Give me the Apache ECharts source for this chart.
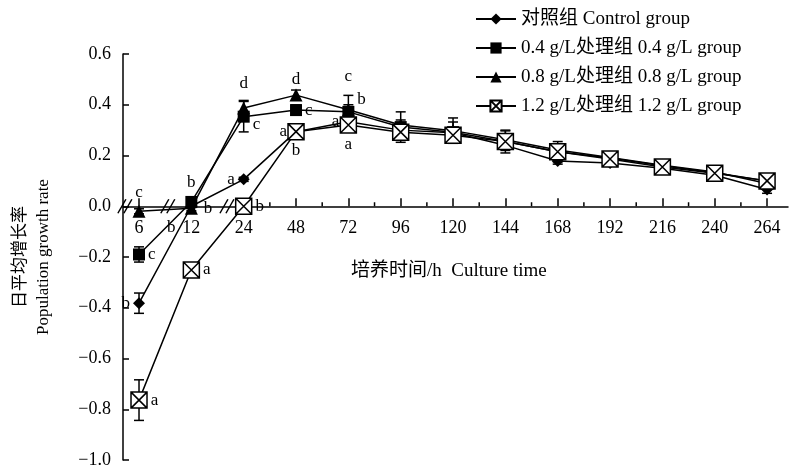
<!DOCTYPE html>
<html><head><meta charset="utf-8">
<script src="https://cdn.jsdelivr.net/npm/echarts@6/dist/echarts.min.js"></script>
<style>html,body{margin:0;padding:0;background:#fff}#c{width:790px;height:472px}</style>
</head><body><div id="c"></div>
<script>
// ---- data ----
const categories = ['6','12','24','48','72','96','120','144','168','192','216','240','264'];
const yTicks = [-1.0,-0.8,-0.6,-0.4,-0.2,0.0,0.2,0.4,0.6];
const seriesNames = ['对照组 Control group','0.4 g/L处理组 0.4 g/L group','0.8 g/L处理组 0.8 g/L group','1.2 g/L处理组 1.2 g/L group'];
const controlValues = [-0.382, 0.0, 0.106, 0.294, 0.333, 0.300, 0.290, 0.240, 0.178, 0.170, 0.150, 0.122, 0.066];
const g04Values     = [-0.190, 0.017, 0.353, 0.379, 0.372, 0.312, 0.292, 0.255, 0.215, 0.190, 0.160, 0.132, 0.100];
const g08Values     = [-0.020, -0.008, 0.387, 0.438, 0.380, 0.320, 0.298, 0.262, 0.222, 0.192, 0.162, 0.135, 0.090];
const g12Values     = [-0.764, -0.251, 0.000, 0.294, 0.320, 0.292, 0.280, 0.255, 0.215, 0.186, 0.155, 0.130, 0.100];
const controlErr = [0.040, 0.005, 0.008, 0.015, 0.015, 0.020, 0.020, 0.020, 0.012, 0.010, 0.010, 0.010, 0.015];
const g04Err     = [0.030, 0.010, 0.060, 0.020, 0.065, 0.060, 0.040, 0.045, 0.040, 0.015, 0.010, 0.010, 0.020];
const g08Err     = [0.010, 0.010, 0.030, 0.020, 0.020, 0.020, 0.050, 0.035, 0.020, 0.010, 0.010, 0.010, 0.020];
const g12Err     = [0.080, 0.010, 0.008, 0.020, 0.020, 0.030, 0.030, 0.030, 0.020, 0.010, 0.010, 0.010, 0.020];
const controlLetters = ['b','b','a','a','a'];
const g04Letters     = ['c','b','c','c','b'];
const g08Letters     = ['c','b','d','d','c'];
const g12Letters     = ['a','a','b','b','a'];
const axisBreaks = [-0.27, 0.55, 1.68];
const minorTicks = [2.5,3.5,4.5,5.5,6.5,7.5,8.5,9.5,10.5,11.5];
const xAxisTitle = '培养时间/h  Culture time';
const yAxisTitle = '日平均增长率\nPopulation growth rate';

// ---- styling / layout ----
const SERIF = '"Liberation Serif","Noto Sans CJK SC",serif';
const GRID = {left:123, right:2, top:54, bottom:12};
const Y_MIN = -1.0, Y_MAX = 0.6;
const placements = [
  [{p:'left'},{p:'bottom',o:[-20,4]},{p:'left'},{p:'left'},{p:'left'}],
  [{p:'right'},{p:'top',d:5},{p:'right',o:[0,8]},{p:'right'},{p:'right',o:[0,-12]}],
  [{p:'top',d:4},{p:'right',d:6},{p:'top',d:10},{p:'top',d:1},{p:'top',d:18}],
  [{p:'right'},{p:'right'},{p:'right'},{p:'bottom',d:2},{p:'bottom',d:2}]
];
const allValues = [controlValues,g04Values,g08Values,g12Values];
const allErr = [controlErr,g04Err,g08Err,g12Err];
const allLetters = [controlLetters,g04Letters,g08Letters,g12Letters];
const boxX = 'path://M0,0L10,0L10,10L0,10Z M0,0L10,10 M10,0L0,10';
const symbols = ['diamond','rect','triangle',boxX];
const symSizes = [12,12,13,16];

function buildData(k){
  return allValues[k].map((v,i)=>{
    const item = {value:[i,v]};
    const L = allLetters[k][i];
    if (L){
      const pl = placements[k][i];
      item.label = {show:true, formatter:L, position:pl.p, distance:pl.d==null?3:pl.d,
        offset:pl.o||[0,0], color:'#000', fontFamily:SERIF, fontSize:17};
    }
    return item;
  });
}

const series = [];
seriesNames.forEach((name,k)=>{
  series.push({
    name, type:'line', data:buildData(k), symbol:symbols[k], symbolSize:symSizes[k],
    lineStyle:{color:'#000',width:1.5},
    itemStyle: k===3 ? {color:'#fff',borderColor:'#000',borderWidth:1.5} : {color:'#000',borderColor:'#000',borderWidth:0},
    z:3+k, animation:false
  });
  series.push({
    name:name+' err', type:'custom', z:2, silent:true,
    data: allValues[k].map((v,i)=>[i, v-allErr[k][i], v+allErr[k][i]]),
    renderItem:(params,api)=>{
      const lo = api.coord([api.value(0), api.value(1)]);
      const hi = api.coord([api.value(0), api.value(2)]);
      const s = {stroke:'#000', lineWidth:1.5};
      return {type:'group', children:[
        {type:'line', shape:{x1:lo[0],y1:lo[1],x2:hi[0],y2:hi[1]}, style:s},
        {type:'line', shape:{x1:lo[0]-5,y1:lo[1],x2:lo[0]+5,y2:lo[1]}, style:s},
        {type:'line', shape:{x1:hi[0]-5,y1:hi[1],x2:hi[0]+5,y2:hi[1]}, style:s}
      ]};
    }
  });
});
series.push({
  name:'minor', type:'custom', silent:true, z:1,
  data: minorTicks.map(x=>[x,0]),
  renderItem:(params,api)=>{
    const p = api.coord([api.value(0),0]);
    return {type:'line', shape:{x1:p[0],y1:p[1],x2:p[0],y2:p[1]-4}, style:{stroke:'#000',lineWidth:1.5}};
  }
});
series.push({
  name:'breaks', type:'custom', silent:true, z:1,
  data: axisBreaks.map(x=>[x,0]),
  renderItem:(params,api)=>{
    const p = api.coord([api.value(0),0]);
    const s = {stroke:'#000',lineWidth:1.5};
    return {type:'group', children:[
      {type:'line', shape:{x1:p[0]-7,y1:p[1]+7,x2:p[0]+1,y2:p[1]-7}, style:s},
      {type:'line', shape:{x1:p[0]-1,y1:p[1]+7,x2:p[0]+7,y2:p[1]-7}, style:s}
    ]};
  }
});

// x axis sits on y = 0: shift it up from the grid bottom by the pixel height of [Y_MIN, 0]
const plotH = 472 - GRID.top - GRID.bottom;
const zeroOffset = -plotH * (0 - Y_MIN) / (Y_MAX - Y_MIN);

const chart = echarts.init(document.getElementById('c'), null, {renderer:'canvas'});
chart.setOption({
  animation:false,
  backgroundColor:'#fff',
  grid:Object.assign({containLabel:false, outerBoundsMode:'none'}, GRID),
  legend:{
    data:seriesNames, orient:'vertical', left:470, top:4, itemWidth:40, itemHeight:14, itemGap:9,
    textStyle:{fontFamily:SERIF, fontSize:19, color:'#000', lineHeight:20},
    inactiveColor:'#000'
  },
  graphic:[{type:'text', left:351, top:262, silent:true,
    style:{text:xAxisTitle, font:'19px ' + SERIF, fill:'#000'}}],
  xAxis:{
    type:'value', min:-0.306, max:12.40, position:'bottom', offset:zeroOffset,
    axisLine:{onZero:false, lineStyle:{color:'#000',width:1.5}},
    axisTick:{inside:true, length:8, customValues:categories.map((c,i)=>i), lineStyle:{color:'#000',width:1.5}},
    axisLabel:{show:true, customValues:categories.map((c,i)=>i), formatter:v=>categories[Math.round(v)], color:'#000',
      fontFamily:SERIF, fontSize:18, margin:13, hideOverlap:false},
    splitLine:{show:false}
  },
  yAxis:{
    type:'value', min:Y_MIN, max:Y_MAX, interval:0.2,
    axisLine:{show:true, onZero:false, lineStyle:{color:'#000',width:1.5}},
    axisTick:{inside:true, length:6, lineStyle:{color:'#000',width:1.5}},
    axisLabel:{color:'#000', fontFamily:SERIF, fontSize:18, margin:12,
      formatter:v=>{const r=yTicks.find(t=>Math.abs(t-v)<1e-6); const x=r==null?v:r; return (x<0?'−':'')+Math.abs(x).toFixed(1);}},
    splitLine:{show:false},
    name:yAxisTitle, nameLocation:'middle', nameRotate:90, nameGap:68,
    nameTextStyle:{fontFamily:SERIF, fontSize:17, color:'#000', lineHeight:23}
  },
  series
});
</script></body></html>
